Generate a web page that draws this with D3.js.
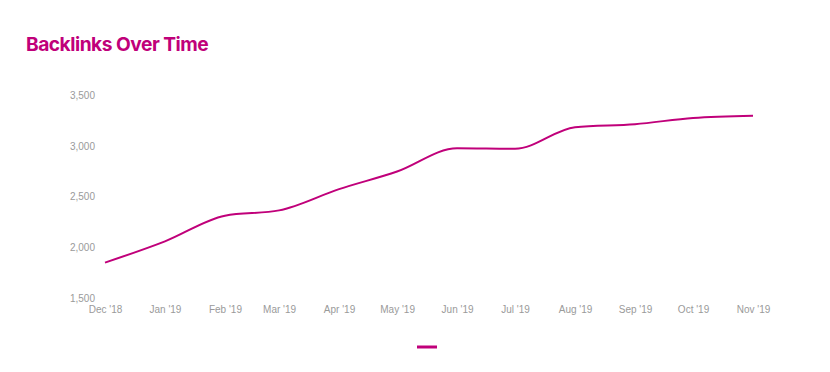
<!DOCTYPE html>
<html>
<head>
<meta charset="utf-8">
<script src="https://cdn.jsdelivr.net/npm/d3@7"></script>
<style>
  body { margin: 0; background: #fff; }
  svg { display: block; }
  .tick text { font-family: "Liberation Sans", Arial, sans-serif; font-size: 10px; fill: #9a9a9a; }
</style>
</head>
<body>
<svg id="chart" width="830" height="372"></svg>
<script>
const months = ['2018-12-01', '2019-01-01', '2019-02-01', '2019-03-01', '2019-04-01', '2019-05-01',
    '2019-06-01', '2019-07-01', '2019-08-01', '2019-09-01', '2019-10-01', '2019-11-01']
const backlinks = [1853, 2062, 2314, 2366, 2575, 2748, 2977, 2971, 3183, 3213, 3275, 3297]
const yTicks = [1500, 2000, 2500, 3000, 3500]

const color = '#c0007a'
const margin = { top: 95, right: 77, bottom: 73, left: 105 }
const width = 830, height = 372

const parse = d3.timeParse('%Y-%m-%d')
const data = months.map((m, i) => ({ date: parse(m), value: backlinks[i] }))

const svg = d3.select('#chart')

svg.append('text')
    .attr('x', 26)
    .attr('y', 51)
    .attr('fill', color)
    .attr('font-family', 'Inter, "Liberation Sans", Arial, sans-serif')
    .attr('font-weight', 700)
    .attr('font-size', 19.2)
    .attr('letter-spacing', -0.5)
    .text('Backlinks Over Time')

const x = d3.scaleTime()
    .domain(d3.extent(data, d => d.date))
    .range([margin.left, width - margin.right])

const y = d3.scaleLinear()
    .domain([1500, 3500])
    .range([height - margin.bottom - 0.5, margin.top])

const xAxis = svg.append('g')
    .attr('transform', `translate(0,${height - margin.bottom + 7})`)
    .call(d3.axisBottom(x)
        .tickValues(data.map(d => d.date))
        .tickFormat(d3.timeFormat("%b '%y"))
        .tickSize(0)
        .tickPadding(0))
xAxis.select('.domain').remove()
xAxis.selectAll('text').attr('dy', '0.71em')

const yAxis = svg.append('g')
    .attr('transform', `translate(${margin.left - 10},0)`)
    .call(d3.axisLeft(y)
        .tickValues(yTicks)
        .tickFormat(d3.format(','))
        .tickSize(0)
        .tickPadding(0))
yAxis.select('.domain').remove()

const line = d3.line()
    .x(d => x(d.date))
    .y(d => y(d.value))
    .curve(d3.curveMonotoneX)

svg.append('path')
    .datum(data)
    .attr('fill', 'none')
    .attr('stroke', color)
    .attr('stroke-width', 2)
    .attr('d', line)

// legend swatch
svg.append('line')
    .attr('x1', 417)
    .attr('x2', 437)
    .attr('y1', 347)
    .attr('y2', 347)
    .attr('stroke', color)
    .attr('stroke-width', 3)
</script>
</body>
</html>
